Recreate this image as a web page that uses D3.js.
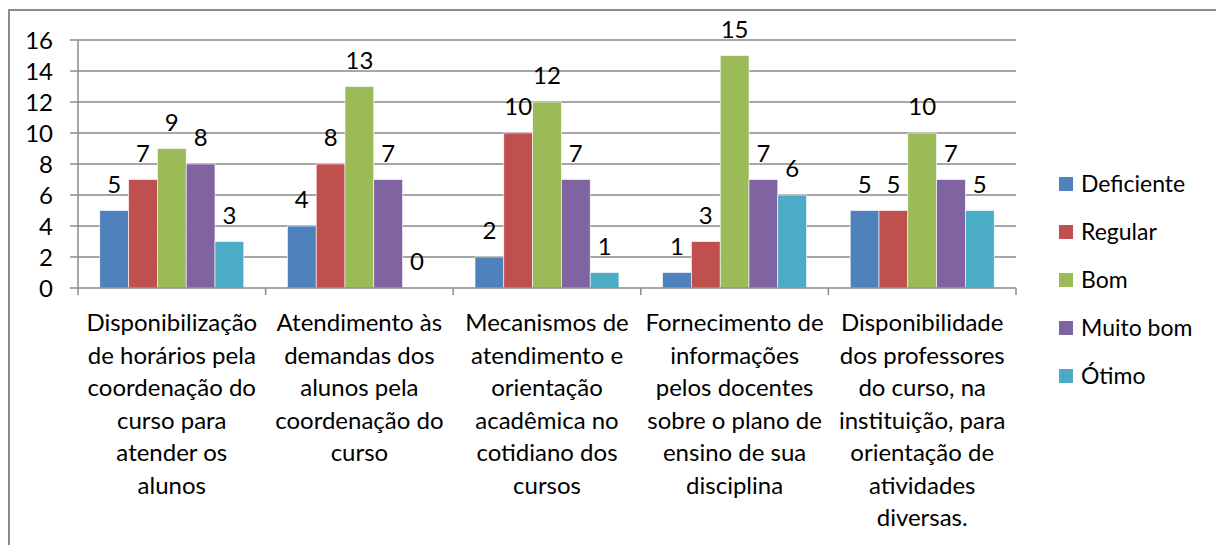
<!DOCTYPE html>
<html>
<head>
<meta charset="utf-8">
<script src="https://cdn.jsdelivr.net/npm/d3@7"></script>
<style>
    body { margin: 0; background: #fff; }
    svg { display: block; }
</style>
</head>
<body>
<svg id="chart" width="1216" height="545"></svg>
<script>
"use strict"

// categories (already broken into lines like in the original)
const categories = [
    ["Disponibilização", "de horários pela", "coordenação do", "curso para", "atender os", "alunos"],
    ["Atendimento às", "demandas dos", "alunos pela", "coordenação do", "curso"],
    ["Mecanismos de", "atendimento e", "orientação", "acadêmica no", "cotidiano dos", "cursos"],
    ["Fornecimento de", "informações", "pelos docentes", "sobre o plano de", "ensino de sua", "disciplina"],
    ["Disponibilidade", "dos professores", "do curso, na", "instituição, para", "orientação de", "atividades", "diversas."]
];

const series_names = ["Deficiente", "Regular", "Bom", "Muito bom", "Ótimo"];

const deficiente = [5, 4, 2, 1, 5];
const regular = [7, 8, 10, 3, 5];
const bom = [9, 13, 12, 15, 10];
const muito_bom = [8, 7, 7, 7, 7];
const otimo = [3, 0, 1, 6, 5];

const y_ticks = [0, 2, 4, 6, 8, 10, 12, 14, 16];

const series_values = [deficiente, regular, bom, muito_bom, otimo];
const colors = ["#4F81BD", "#C0504D", "#9BBB59", "#8064A2", "#4BACC6"];

const font = "Lato, 'Open Sans', sans-serif";
const grid_color = "#8a8a8a";

const svg = d3.select("#chart");

//outer frame of the chart object (runs past the right/bottom edge)
svg.append("path")
    .attr("d", "M9,545 L9,10 L1216,10")
    .attr("fill", "none")
    .attr("stroke", grid_color)
    .attr("stroke-width", 2);

//plot area
const plot = { left: 78, right: 1016, top: 40, bottom: 288 };

const y = d3.scaleLinear()
    .domain([0, 16])
    .range([plot.bottom, plot.top]);

const x0 = d3.scaleBand()
    .domain(d3.range(categories.length))
    .range([plot.left, plot.right])
    .padding(0);

const x1 = d3.scaleBand()
    .domain(d3.range(series_names.length))
    .range([0, x0.bandwidth()])
    .paddingInner(0)
    .paddingOuter(0.757);

//horizontal gridlines + y tick marks
const grid = svg.append("g");
grid.selectAll("line")
    .data(y_ticks.filter(d => d > 0))
    .join("line")
    .attr("x1", plot.left - 8)
    .attr("x2", plot.right)
    .attr("y1", d => y(d))
    .attr("y2", d => y(d))
    .attr("stroke", grid_color)
    .attr("stroke-width", 1.5);

//y tick labels
svg.append("g").selectAll("text")
    .data(y_ticks)
    .join("text")
    .attr("x", 53)
    .attr("y", d => y(d) + 8.5)
    .attr("text-anchor", "end")
    .attr("font-family", font)
    .attr("font-size", 24)
    .attr("fill", "#000")
    .text(d => d);

//bars, one group per category
const groups = svg.append("g").selectAll("g")
    .data(categories.map((c, i) => i))
    .join("g")
    .attr("transform", i => `translate(${x0(i)},0)`);

groups.selectAll("rect")
    .data(i => series_values.map((vals, s) => ({ s: s, v: vals[i] })))
    .join("rect")
    .attr("x", d => x1(d.s))
    .attr("y", d => y(d.v))
    .attr("width", x1.bandwidth())
    .attr("height", d => y(0) - y(d.v))
    .attr("fill", d => colors[d.s])
    .attr("stroke", "#fff")
    .attr("stroke-width", 0.6);

//data labels above the bars
groups.selectAll("text")
    .data(i => series_values.map((vals, s) => ({ s: s, v: vals[i] })))
    .join("text")
    .attr("x", d => x1(d.s) + x1.bandwidth() / 2)
    .attr("y", d => y(d.v) - 18)
    .attr("text-anchor", "middle")
    .attr("font-family", font)
    .attr("font-size", 24)
    .attr("fill", "#000")
    .text(d => d.v);

//axes lines drawn on top of bars
svg.append("line")
    .attr("x1", plot.left).attr("x2", plot.left)
    .attr("y1", plot.top).attr("y2", plot.bottom)
    .attr("stroke", grid_color).attr("stroke-width", 1.5);

svg.append("line")
    .attr("x1", plot.left - 8).attr("x2", plot.right)
    .attr("y1", plot.bottom).attr("y2", plot.bottom)
    .attr("stroke", grid_color).attr("stroke-width", 1.5);

//category separators on the x axis
const boundaries = d3.range(categories.length + 1).map(i => i < categories.length ? x0(i) : plot.right);
svg.append("g").selectAll("line")
    .data(boundaries)
    .join("line")
    .attr("x1", d => d).attr("x2", d => d)
    .attr("y1", plot.bottom).attr("y2", plot.bottom + 7)
    .attr("stroke", grid_color).attr("stroke-width", 1.5);

//category labels, one tspan per line
const line_height = 32.5;
const cat_labels = svg.append("g").selectAll("text")
    .data(categories)
    .join("text")
    .attr("font-family", font)
    .attr("font-size", 24)
    .attr("fill", "#000")
    .attr("text-anchor", "middle");

cat_labels.each(function (lines, i) {
    const cx = x0(i) + x0.bandwidth() / 2;
    d3.select(this).selectAll("tspan")
        .data(lines)
        .join("tspan")
        .attr("x", cx)
        .attr("y", (d, k) => 331 + k * line_height)
        .text(d => d);
});

//legend
const legend = svg.append("g").selectAll("g")
    .data(series_names)
    .join("g")
    .attr("transform", (d, i) => `translate(1059,${177 + i * 48})`);

legend.append("rect")
    .attr("width", 14)
    .attr("height", 14)
    .attr("fill", (d, i) => colors[i]);

legend.append("text")
    .attr("x", 22)
    .attr("y", 14.5)
    .attr("font-family", font)
    .attr("font-size", 23)
    .attr("fill", "#000")
    .text(d => d);
</script>
</body>
</html>
